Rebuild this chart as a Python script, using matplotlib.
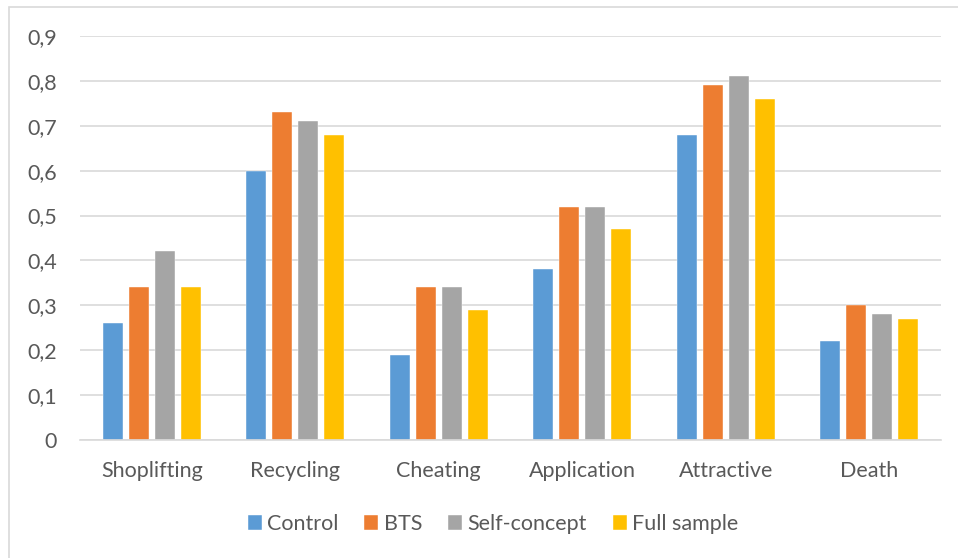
import matplotlib
matplotlib.use("Agg")
import matplotlib.pyplot as plt
from matplotlib.patches import Rectangle
from matplotlib.ticker import FixedLocator, FuncFormatter
import numpy as np

plt.rcParams['font.family'] = ['Lato', 'DejaVu Sans']

categories = ["Shoplifting", "Recycling", "Cheating", "Application", "Attractive", "Death"]
series_names = ["Control", "BTS", "Self-concept", "Full sample"]
control = [0.26, 0.60, 0.19, 0.38, 0.68, 0.22]
bts = [0.34, 0.73, 0.34, 0.52, 0.79, 0.30]
self_concept = [0.42, 0.71, 0.34, 0.52, 0.81, 0.28]
full_sample = [0.34, 0.68, 0.29, 0.47, 0.76, 0.27]
y_ticks = [0, 0.1, 0.2, 0.3, 0.4, 0.5, 0.6, 0.7, 0.8, 0.9]

colors = ["#5B9BD5", "#ED7D31", "#A5A5A5", "#FFC000"]
text_color = "#595959"
fs = 15.5

fig = plt.figure(figsize=(9.58, 5.58), dpi=100)
W, H = 958, 558
ax = fig.add_axes([80 / W, 1 - 440 / H, (941 - 80) / W, (440 - 36) / H])

# outer chart frame (left and top edges visible)
fig.patches.append(Rectangle((9 / W, -0.05), 1.2, 1 - 7 / H + 0.05,
                             transform=fig.transFigure, fill=False,
                             edgecolor="#D9D9D9", linewidth=1.2))

x = np.arange(len(categories))
step = 0.181
width = 0.142
for i, (vals, name, c) in enumerate(zip([control, bts, self_concept, full_sample],
                                         series_names, colors)):
    ax.bar(x + (i - 1.5) * step, vals, width, color=c, label=name, zorder=3,
           edgecolor="white", linewidth=0.3)

ax.set_xlim(-0.5, len(categories) - 0.5)
ax.set_ylim(0, 0.9)
ax.yaxis.set_major_locator(FixedLocator(y_ticks))
ax.yaxis.set_major_formatter(FuncFormatter(
    lambda v, _: "0" if abs(v) < 1e-9 else f"{v:.1f}".replace(".", ",")))
ax.grid(axis="y", color="#D9D9D9", linewidth=1.2, zorder=0)
for s in ["top", "right", "left"]:
    ax.spines[s].set_visible(False)
ax.spines["bottom"].set_color("#D9D9D9")
ax.spines["bottom"].set_linewidth(1.2)
ax.spines["bottom"].set_zorder(4)

ax.set_xticks(x)
ax.set_xticklabels(categories)
ax.tick_params(axis="both", length=0, labelsize=fs, labelcolor=text_color)
ax.tick_params(axis="x", pad=15)
ax.tick_params(axis="y", pad=16.5)

leg = fig.legend(loc="center", bbox_to_anchor=(493 / W, 1 - 524 / H), ncol=4,
                 frameon=False, fontsize=fs, handlelength=0.65,
                 handleheight=0.65, handletextpad=0.25, columnspacing=1.2)
for t in leg.get_texts():
    t.set_color(text_color)

fig.savefig("out.png", dpi=100)
